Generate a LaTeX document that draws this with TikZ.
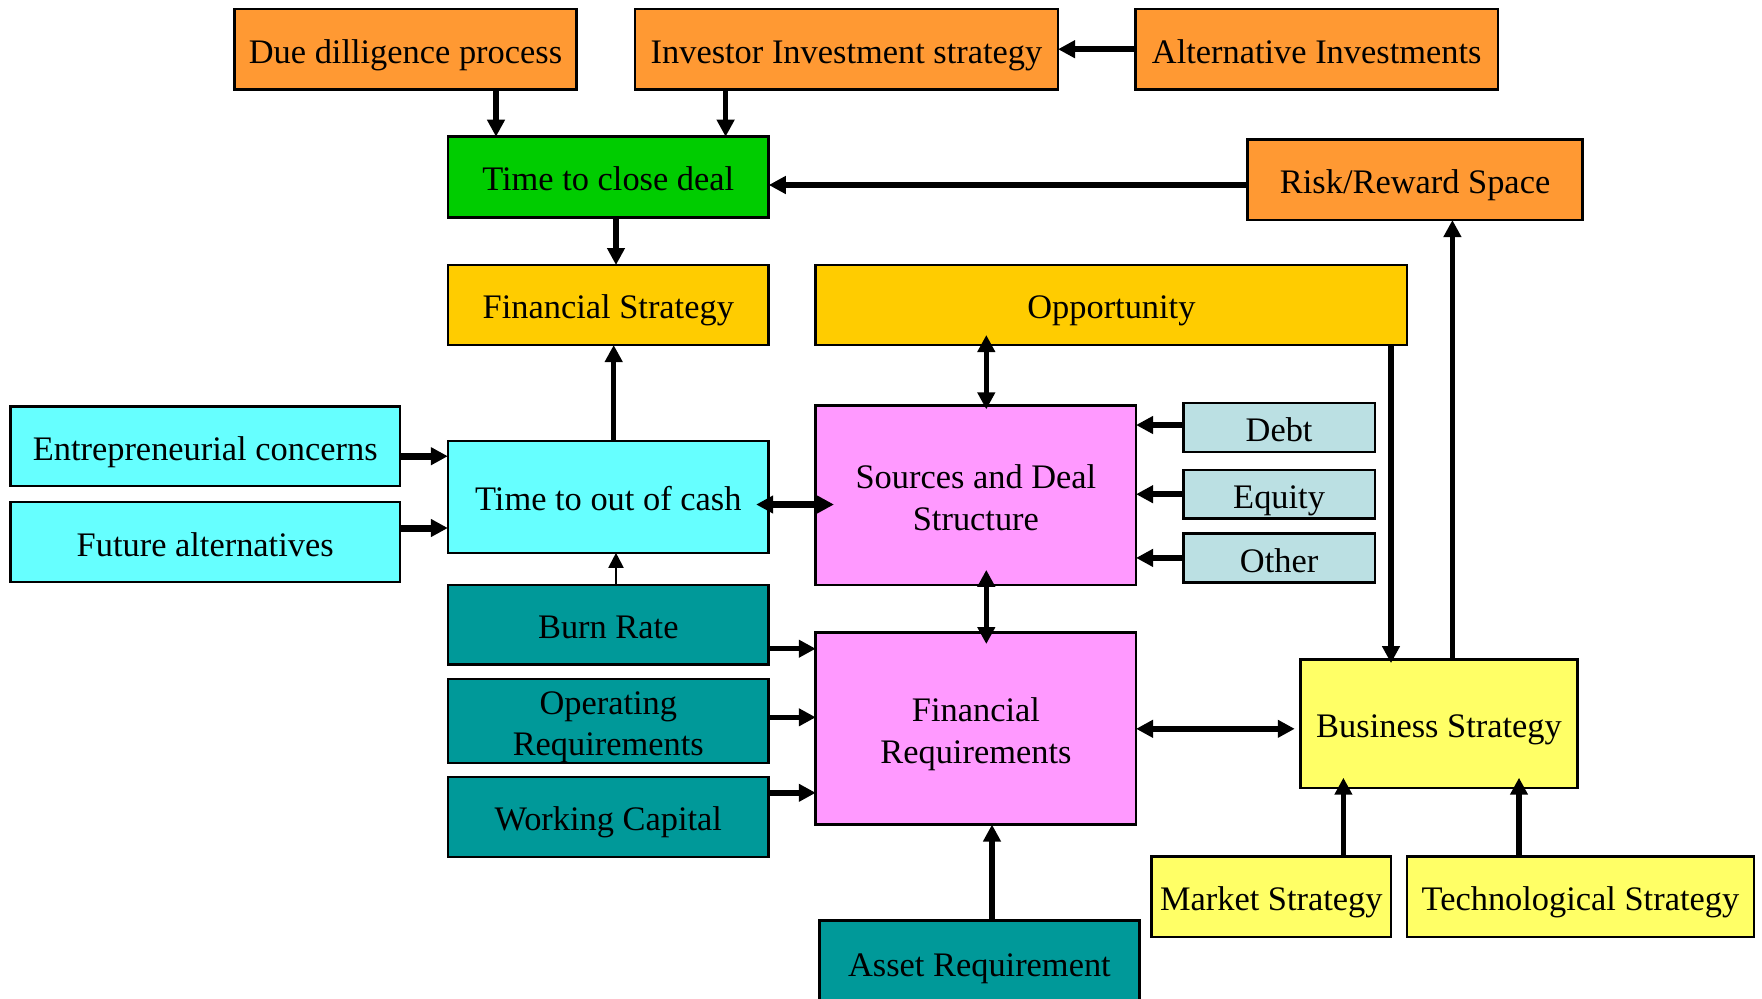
\documentclass[tikz,border=0pt]{standalone}
\usepackage{fontspec}
\setmainfont{Liberation Serif}
\usetikzlibrary{arrows.meta}
\definecolor{cOrange}{HTML}{FF9933}
\definecolor{cGreen}{HTML}{00CC00}
\definecolor{cGold}{HTML}{FFCC00}
\definecolor{cCyan}{HTML}{66FFFF}
\definecolor{cPink}{HTML}{FF99FF}
\definecolor{cLBlue}{HTML}{BBE0E3}
\definecolor{cTeal}{HTML}{009999}
\definecolor{cYellow}{HTML}{FFFF66}
\begin{document}
\begin{tikzpicture}[x=0.5pt,y=-0.5pt,
  box/.style={draw=black, line width=1.3pt, inner sep=0pt, outer sep=0pt, align=center,
    font=\fontsize{17.2}{20.8}\selectfont},
  sbox/.style={box, text height=14.4pt, text depth=0.5pt},
  arr/.style={line width=2.75pt, -{Triangle[length=8.5pt,width=8.5pt]}},
  darr/.style={line width=2.75pt, {Triangle[length=8.5pt,width=8.5pt]}-{Triangle[length=8.5pt,width=8.5pt]}},
  fat/.style={line width=3.5pt},
  tarr/.style={line width=1pt, -{Triangle[length=7.5pt,width=7.5pt]}}
]
\useasboundingbox (0,0) rectangle (1762,998);
\clip (0,0) rectangle (1762,998);
\fill[white] (0,0) rectangle (1762,998);

% boxes
\node[sbox, fill=cOrange, minimum width=170.75pt, minimum height=40.15pt] (due) at (405.5,49.2) {Due dilligence process};
\node[sbox, fill=cOrange, minimum width=211.5pt, minimum height=40.15pt] (inv) at (846.5,49.2) {Investor Investment strategy};
\node[sbox, fill=cOrange, minimum width=181.15pt, minimum height=40.15pt] (alt) at (1316.7,49.2) {Alternative Investments};
\node[sbox, fill=cGreen, minimum width=160.45pt, minimum height=40.3pt] (tcd) at (608.3,177) {Time to close deal};
\node[sbox, fill=cOrange, minimum width=167.6pt, minimum height=40.35pt] (risk) at (1415.1,179.7) {Risk/Reward Space};
\node[sbox, fill=cGold, minimum width=160.45pt, minimum height=40pt] (fs) at (608.3,305) {Financial Strategy};
\node[sbox, fill=cGold, minimum width=295.65pt, minimum height=40pt] (opp) at (1111.4,305) {Opportunity};
\node[sbox, fill=cCyan, minimum width=194.85pt, minimum height=39.75pt] (ent) at (205.2,446.1) {Entrepreneurial concerns};
\node[sbox, fill=cCyan, minimum width=194.85pt, minimum height=40pt] (fut) at (205.2,542.1) {Future alternatives};
\node[sbox, fill=cCyan, minimum width=160.45pt, minimum height=56pt] (toc) at (608.3,496.8) {Time to out of cash};
\node[box, fill=cPink, minimum width=160.15pt, minimum height=89.65pt] (src) at (975.9,495.4) {\rule{0pt}{14.1pt}Sources and Deal\\Structure};
\node[sbox, fill=cLBlue, minimum width=95.9pt, minimum height=24.4pt] (debt) at (1279.1,427.5) {Debt};
\node[sbox, fill=cLBlue, minimum width=95.9pt, minimum height=24.4pt] (eq) at (1279.1,494.2) {Equity};
\node[sbox, fill=cLBlue, minimum width=95.9pt, minimum height=24.4pt] (oth) at (1279.1,558.1) {Other};
\node[sbox, fill=cTeal, minimum width=160.45pt, minimum height=39.85pt] (burn) at (608.3,624.9) {Burn Rate};
\node[box, fill=cTeal, minimum width=160.45pt, minimum height=39.85pt] (oper) at (608.3,721) {\rule{0pt}{17.5pt}Operating\\Requirements\rule[-3.7pt]{0pt}{0pt}};
\node[sbox, fill=cTeal, minimum width=160.45pt, minimum height=40pt] (work) at (608.3,816.9) {Working Capital};
\node[box, fill=cPink, minimum width=160.15pt, minimum height=95.95pt] (freq) at (975.9,728.6) {\rule{0pt}{17.5pt}Financial\\Requirements\rule[-3.7pt]{0pt}{0pt}};
\node[sbox, fill=cYellow, minimum width=138.65pt, minimum height=64.3pt] (bus) at (1439,723.6) {Business Strategy};
\node[sbox, fill=cYellow, minimum width=119.7pt, minimum height=40.25pt] (mkt) at (1271.3,896.8) {Market Strategy};
\node[sbox, fill=cYellow, minimum width=173.4pt, minimum height=40.25pt] (tech) at (1580.4,896.8) {Technological Strategy};
\node[sbox, fill=cTeal, minimum width=160.2pt, minimum height=41.9pt] (asset) at (979.4,962.5) {Asset Requirement};

% connectors
\draw[arr] (due.south -| 496,0) -- (tcd.north -| 496,0);
\draw[arr] (inv.south -| 725.6,0) -- (tcd.north -| 725.6,0);
\draw[arr] (alt.west) -- (inv.east);
\draw[arr] (risk.west |- 0,185) -- (tcd.east |- 0,185);
\draw[arr] (tcd.south -| 616,0) -- (fs.north -| 616,0);
\draw[arr] (toc.north -| 613.7,0) -- (fs.south -| 613.7,0);
\draw[arr, fat] (ent.east |- 0,456.2) -- (toc.west |- 0,456.2);
\draw[arr, fat] (fut.east |- 0,528) -- (toc.west |- 0,528);
\draw[darr, fat, shorten <=-6.3pt, shorten >=-9.1pt] (toc.east |- 0,504.5) -- (src.west |- 0,504.5);
\draw[darr, shorten <=-5pt, shorten >=-1.8pt] (opp.south -| 986.3,0) -- (src.north -| 986.3,0);
\draw[darr, shorten <=-7.6pt, shorten >=-5.7pt] (src.south -| 986.3,0) -- (freq.north -| 986.3,0);
\draw[arr] (debt.west |- 0,425) -- (src.east |- 0,425);
\draw[arr] (eq.west |- 0,494.2) -- (src.east |- 0,494.2);
\draw[arr] (oth.west |- 0,557.9) -- (src.east |- 0,557.9);
\draw[tarr] (burn.north -| 616,0) -- (toc.south -| 616,0);
\draw[arr] (burn.east |- 0,648.7) -- (freq.west |- 0,648.7);
\draw[arr] (oper.east |- 0,717.3) -- (freq.west |- 0,717.3);
\draw[arr] (work.east |- 0,792.8) -- (freq.west |- 0,792.8);
\draw[darr, shorten >=2.8pt] (freq.east |- 0,728.8) -- (bus.west |- 0,728.8);
\draw[arr] (asset.north -| 992,0) -- (freq.south -| 992,0);
\draw[arr, shorten >=-5.1pt] (mkt.north -| 1343.4,0) -- (bus.south -| 1343.4,0);
\draw[arr, shorten >=-5.1pt] (tech.north -| 1519,0) -- (bus.south -| 1519,0);
\draw[arr, shorten >=-1.9pt] (opp.south -| 1391,0) -- (bus.north -| 1391,0);
\draw[arr] (bus.north -| 1452.4,0) -- (risk.south -| 1452.4,0);
\end{tikzpicture}
\end{document}
